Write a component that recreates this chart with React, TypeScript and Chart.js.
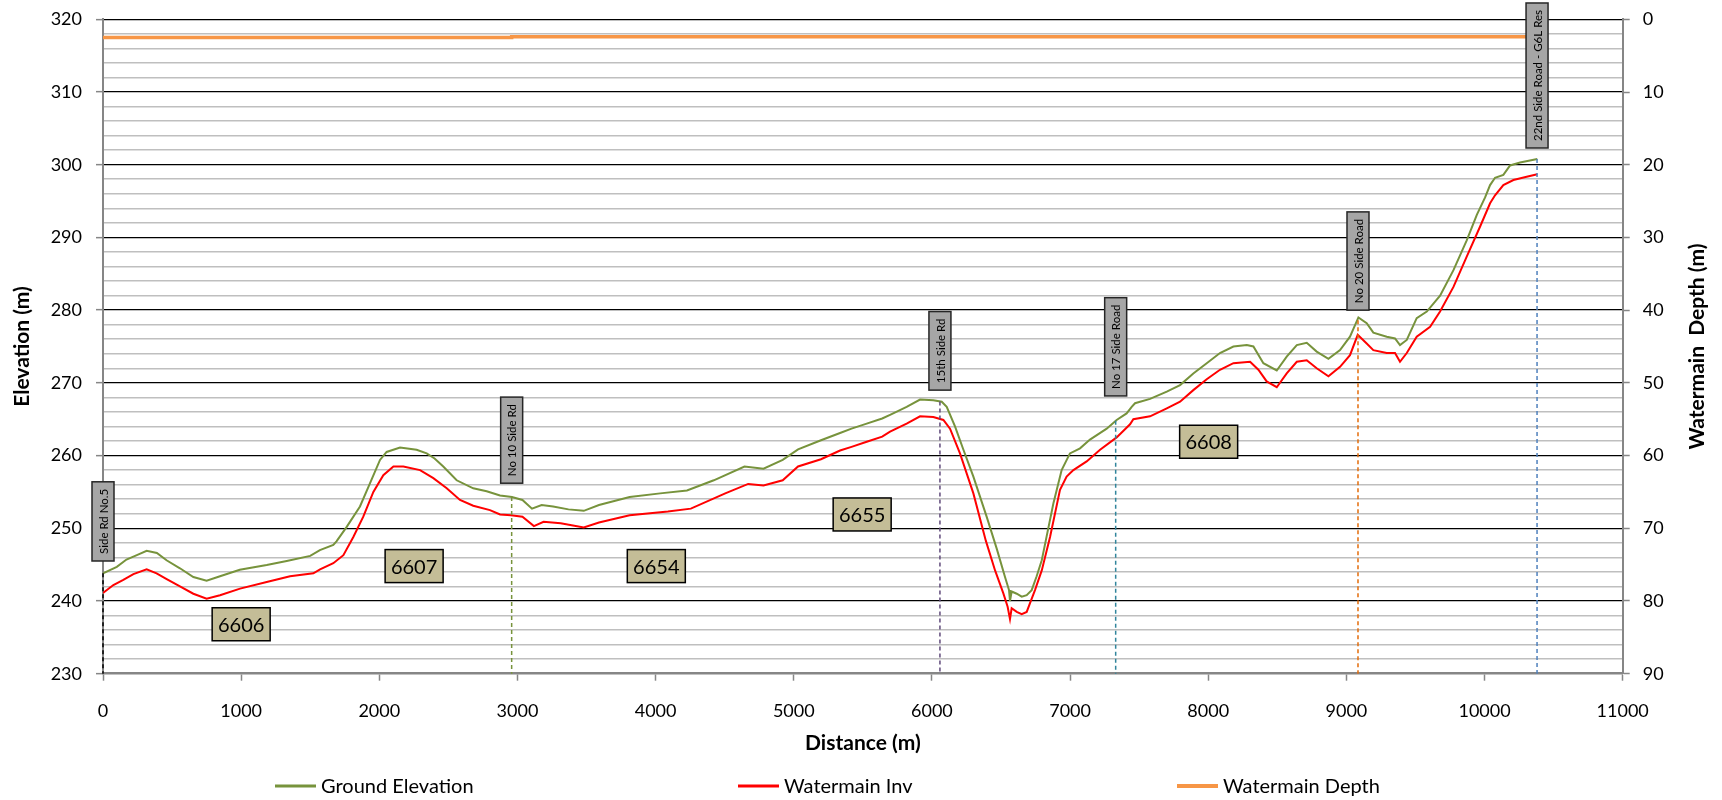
import React, { useEffect, useRef } from 'react';
import { Chart, registerables } from 'chart.js';

Chart.register(...registerables);

const FONT = 'Lato, "Open Sans", "DejaVu Sans", sans-serif';

// [distance (m), elevation (m)]
const groundElevation: [number, number][] = [
  [0, 243.8], [100, 244.7], [170, 245.7], [245, 246.3], [316, 246.9], [390, 246.6], [460, 245.6],
  [557, 244.5], [654, 243.3], [750, 242.8], [847, 243.4], [990, 244.3], [1185, 244.95], [1330, 245.5],
  [1500, 246.2], [1570, 247.0], [1667, 247.7], [1690, 248.2], [1764, 250.2], [1860, 253.0], [1933, 256.2],
  [2005, 259.4], [2053, 260.5], [2150, 261.1], [2270, 260.8], [2343, 260.3], [2400, 259.6], [2463, 258.5],
  [2560, 256.6], [2680, 255.5], [2777, 255.1], [2874, 254.5], [2960, 254.3], [3036, 253.9], [3105, 252.7],
  [3175, 253.2], [3258, 253.0], [3369, 252.6], [3480, 252.4], [3590, 253.2], [3812, 254.3], [4033, 254.8],
  [4227, 255.2], [4421, 256.6], [4643, 258.5], [4781, 258.2], [4920, 259.4], [5031, 260.85], [5197, 262.1],
  [5335, 263.1], [5418, 263.7], [5528, 264.4], [5640, 265.1], [5697, 265.6], [5817, 266.7], [5914, 267.7],
  [6010, 267.6], [6071, 267.4], [6107, 266.7], [6167, 264.0], [6228, 260.8], [6300, 257.1], [6396, 251.6],
  [6469, 247.2], [6529, 243.3], [6558, 241.5], [6565, 240.0], [6577, 241.3], [6614, 241.0], [6650, 240.6],
  [6686, 240.8], [6722, 241.5], [6758, 243.4], [6795, 245.6], [6824, 248.3], [6879, 253.4], [6939, 258.0],
  [6999, 260.3], [7072, 261.0], [7144, 262.2], [7265, 263.7], [7337, 264.9], [7409, 265.8], [7446, 266.7],
  [7470, 267.2], [7579, 267.8], [7700, 268.8], [7796, 269.7], [7892, 271.3], [7989, 272.7], [8085, 274.1],
  [8182, 275.0], [8279, 275.2], [8327, 275.0], [8399, 272.7], [8496, 271.7], [8568, 273.6], [8641, 275.2],
  [8713, 275.5], [8785, 274.3], [8870, 273.3], [8954, 274.5], [9026, 276.35], [9087, 279.0], [9147, 278.2],
  [9195, 276.9], [9292, 276.35], [9352, 276.1], [9388, 275.2], [9437, 275.9], [9509, 278.9], [9582, 279.8],
  [9678, 282.0], [9775, 285.5], [9871, 289.6], [9944, 293.1], [10004, 295.5], [10040, 297.2], [10076, 298.2],
  [10136, 298.6], [10185, 299.9], [10257, 300.3], [10382, 300.8],
];

const watermainInvert: [number, number][] = [
  [0, 241.1], [75, 242.2], [147, 242.9], [220, 243.7], [316, 244.35], [388, 243.8], [461, 243.0],
  [557, 242.0], [654, 241.0], [750, 240.3], [847, 240.8], [992, 241.7], [1185, 242.6], [1354, 243.4],
  [1523, 243.8], [1571, 244.35], [1667, 245.2], [1740, 246.3], [1812, 248.8], [1884, 251.6], [1957, 255.0],
  [2029, 257.3], [2102, 258.5], [2174, 258.5], [2295, 258.0], [2391, 256.9], [2488, 255.5], [2584, 253.9],
  [2680, 253.1], [2801, 252.5], [2874, 251.9], [2953, 251.8], [3036, 251.6], [3119, 250.3], [3189, 250.9],
  [3313, 250.7], [3480, 250.1], [3590, 250.8], [3812, 251.8], [4089, 252.3], [4255, 252.7], [4504, 254.8],
  [4670, 256.1], [4781, 255.9], [4920, 256.6], [5031, 258.5], [5197, 259.5], [5335, 260.7], [5418, 261.2],
  [5528, 261.9], [5640, 262.6], [5697, 263.3], [5817, 264.4], [5914, 265.4], [6010, 265.3], [6083, 264.9],
  [6131, 263.7], [6203, 260.3], [6300, 254.8], [6390, 248.3], [6457, 244.2], [6517, 241.05], [6548, 239.2],
  [6565, 237.5], [6577, 239.0], [6614, 238.5], [6650, 238.2], [6686, 238.5], [6710, 239.7], [6746, 241.5],
  [6795, 244.2], [6855, 248.8], [6927, 255.3], [6975, 257.1], [7024, 258.0], [7120, 259.2], [7217, 260.8],
  [7337, 262.5], [7434, 264.3], [7458, 265.0], [7579, 265.4], [7700, 266.5], [7796, 267.4], [7892, 269.0],
  [7989, 270.5], [8085, 271.8], [8182, 272.7], [8303, 272.9], [8363, 271.8], [8423, 270.2], [8496, 269.4],
  [8568, 271.3], [8641, 272.9], [8713, 273.1], [8785, 272.0], [8870, 270.9], [8954, 272.2], [9026, 273.8],
  [9082, 276.6], [9147, 275.4], [9195, 274.5], [9292, 274.1], [9352, 274.1], [9388, 272.9], [9437, 274.1],
  [9509, 276.35], [9606, 277.7], [9678, 279.8], [9775, 283.2], [9871, 287.35], [9968, 291.5], [10040, 294.7],
  [10076, 295.8], [10136, 297.2], [10209, 297.9], [10305, 298.35], [10382, 298.7],
];

// [distance (m), depth (m)] on the right axis
const watermainDepth: [number, number][] = [
  [0, 2.5], [2958, 2.5], [2958, 2.4], [10380, 2.4],
];

const seriesNames = ['Ground Elevation', 'Watermain Inv', 'Watermain Depth'];
const seriesColors = ['#77933C', '#FF0000', '#F79646'];

const roadNames = ['Side Rd No.5', 'No 10 Side Rd', '15th Side Rd', 'No 17 Side Road', 'No 20 Side Road', '22nd Side Road - G6L Res'];
const roadDistances = [0, 2958, 6058, 7330, 9084, 10380];
const roadLineTops = [243.8, 254.3, 267.45, 264.8, 278.6, 300.8];
const roadLabelBottoms = [245.5, 256.2, 269.0, 268.2, 280.0, 302.3];
const roadColors = ['#000000', '#77933C', '#604A7B', '#31859C', '#E46C0A', '#4F81BD'];

const sectionNames = ['6606', '6607', '6654', '6655', '6608'];
const sectionDistances = [1000, 2252, 4005, 5495, 8003];
const sectionElevations = [236.8, 244.8, 244.8, 251.9, 261.9];

const leftTitle = 'Elevation (m)';
const rightTitle = 'Watermain  Depth (m)';
const bottomTitle = 'Distance (m)';

const toPoints = (arr: [number, number][]) => arr.map(([x, y]) => ({ x, y }));

const overlayPlugin = {
  id: 'overlay',
  afterDatasetsDraw(chart: any) {
    const { ctx } = chart;
    const xs = chart.scales.x;
    const ys = chart.scales.y;
    ctx.save();
    ctx.font = `11.5px ${FONT}`;
    roadNames.forEach((name, i) => {
      const px = xs.getPixelForValue(roadDistances[i]);
      const bottom = ys.getPixelForValue(roadLabelBottoms[i]);
      const tw = ctx.measureText(name).width;
      const h = tw + 14;
      const w = 22;
      ctx.fillStyle = '#A6A6A6';
      ctx.fillRect(px - w / 2, bottom - h, w, h);
      ctx.lineWidth = 1.5;
      ctx.strokeStyle = '#262626';
      ctx.strokeRect(px - w / 2, bottom - h, w, h);
      ctx.save();
      ctx.translate(px, bottom - h / 2);
      ctx.rotate(-Math.PI / 2);
      ctx.fillStyle = '#000';
      ctx.textAlign = 'center';
      ctx.textBaseline = 'middle';
      ctx.fillText(name, 0, 1);
      ctx.restore();
    });
    ctx.font = `20px ${FONT}`;
    sectionNames.forEach((name, i) => {
      const px = xs.getPixelForValue(sectionDistances[i]);
      const py = ys.getPixelForValue(sectionElevations[i]);
      const w = 58;
      const h = 33;
      ctx.fillStyle = '#C4BD97';
      ctx.fillRect(px - w / 2, py - h / 2, w, h);
      ctx.lineWidth = 1.5;
      ctx.strokeStyle = '#000';
      ctx.strokeRect(px - w / 2, py - h / 2, w, h);
      ctx.fillStyle = '#000';
      ctx.textAlign = 'center';
      ctx.textBaseline = 'middle';
      ctx.fillText(name, px, py + 1);
    });
    ctx.restore();
  },
  afterDraw(chart: any) {
    const { ctx, chartArea } = chart;
    ctx.save();
    ctx.font = `bold 21px ${FONT}`;
    ctx.fillStyle = '#000';
    ctx.textAlign = 'center';
    ctx.textBaseline = 'middle';
    ctx.translate(1697, (chartArea.top + chartArea.bottom) / 2);
    ctx.rotate(-Math.PI / 2);
    ctx.fillText(rightTitle, 0, 0);
    ctx.restore();

    ctx.save();
    const legendX = [275, 738, 1177];
    const legendY = 786;
    ctx.font = `20px ${FONT}`;
    ctx.textAlign = 'left';
    ctx.textBaseline = 'middle';
    seriesNames.forEach((name, i) => {
      ctx.strokeStyle = seriesColors[i];
      ctx.lineWidth = i === 2 ? 4 : 3;
      ctx.beginPath();
      ctx.moveTo(legendX[i], legendY);
      ctx.lineTo(legendX[i] + 41, legendY);
      ctx.stroke();
      ctx.fillStyle = '#000';
      ctx.fillText(name, legendX[i] + 46, legendY + 1);
    });
    ctx.restore();
  },
};

export default function App() {
  const canvasRef = useRef<HTMLCanvasElement | null>(null);

  useEffect(() => {
    if (!canvasRef.current) return;
    Chart.defaults.font.family = FONT;
    Chart.defaults.color = '#000';

    const roadLineSets = roadNames.map((name, i) => ({
      label: name,
      data: [
        { x: roadDistances[i], y: roadLineTops[i] },
        { x: roadDistances[i], y: 230 },
      ],
      yAxisID: 'y',
      borderColor: roadColors[i],
      borderWidth: 1.5,
      borderDash: [4, 3],
      pointRadius: 0,
      fill: false,
      clip: false as any,
    }));

    const chart = new Chart(canvasRef.current, {
      type: 'line',
      data: {
        datasets: [
          ...roadLineSets,
          {
            label: seriesNames[0],
            data: toPoints(groundElevation),
            yAxisID: 'y',
            borderColor: seriesColors[0],
            borderWidth: 2,
            pointRadius: 0,
            fill: false,
          },
          {
            label: seriesNames[1],
            data: toPoints(watermainInvert),
            yAxisID: 'y',
            borderColor: seriesColors[1],
            borderWidth: 2,
            pointRadius: 0,
            fill: false,
          },
          {
            label: seriesNames[2],
            data: toPoints(watermainDepth),
            yAxisID: 'y2',
            borderColor: seriesColors[2],
            borderWidth: 3.5,
            pointRadius: 0,
            fill: false,
          },
        ],
      },
      options: {
        animation: false,
        responsive: false,
        maintainAspectRatio: false,
        devicePixelRatio: 1,
        layout: { padding: { top: 19.3, left: 0, right: 0, bottom: 0 } },
        plugins: {
          legend: { display: false },
          tooltip: { enabled: false },
        },
        elements: { line: { tension: 0 } },
        scales: {
          x: {
            type: 'linear',
            min: 0,
            max: 11000,
            ticks: {
              stepSize: 1000,
              autoSkip: false,
              maxRotation: 0,
              padding: 20,
              color: '#000',
              font: { family: FONT, size: 18 },
              callback: (v: any) => String(v),
            },
            grid: {
              drawOnChartArea: false,
              drawTicks: true,
              tickLength: 7,
              tickColor: '#868686',
              tickWidth: 1.5,
            },
            border: { color: '#868686', width: 2.5 },
            title: {
              display: true,
              text: bottomTitle,
              color: '#000',
              font: { family: FONT, size: 21, weight: 'bold' },
              padding: { top: 0, bottom: 44 },
            },
            afterFit: (s: any) => {
              s.height = 126.3;
            },
          },
          y: {
            type: 'linear',
            position: 'left',
            min: 230,
            max: 320,
            ticks: {
              stepSize: 2,
              autoSkip: false,
              padding: 14,
              color: '#000',
              font: { family: FONT, size: 18 },
              callback: (v: any) => (Math.round(v) % 10 === 0 ? String(v) : ''),
            },
            grid: {
              color: (c: any) =>
                c.tick && c.tick.value === 230
                  ? 'rgba(0,0,0,0)'
                  : c.tick && Math.round(c.tick.value) % 10 === 0
                  ? '#000000'
                  : '#BFBFBF',
              lineWidth: (c: any) => (c.tick && Math.round(c.tick.value) % 10 === 0 ? 1.3 : 1.6),
              tickLength: 7,
              tickColor: (c: any) =>
                c.tick && Math.round(c.tick.value) % 10 === 0 ? '#868686' : 'rgba(0,0,0,0)',
              tickWidth: 1.5,
            },
            border: { color: '#868686', width: 2 },
            title: {
              display: true,
              text: leftTitle,
              color: '#000',
              font: { family: FONT, size: 21, weight: 'bold' },
              padding: { top: 9.4, bottom: 0 },
            },
            afterFit: (s: any) => {
              s.width = 103;
              s.paddingTop = 0;
              s.paddingBottom = 0;
            },
          },
          y2: {
            type: 'linear',
            position: 'right',
            min: 0,
            max: 90,
            reverse: true,
            ticks: {
              stepSize: 10,
              autoSkip: false,
              padding: 13,
              color: '#000',
              font: { family: FONT, size: 18 },
              callback: (v: any) => String(v),
            },
            grid: {
              drawOnChartArea: false,
              tickLength: 7,
              tickColor: '#868686',
              tickWidth: 1.5,
            },
            border: { color: '#868686', width: 2 },
            title: { display: false },
            afterFit: (s: any) => {
              s.width = 99.3;
              s.paddingTop = 0;
              s.paddingBottom = 0;
            },
          },
        },
      } as any,
      plugins: [overlayPlugin],
    });

    return () => {
      chart.destroy();
    };
  }, []);

  return (
    <div style={{ position: 'absolute', left: 0, top: 0, width: 1722, height: 800, background: '#fff' }}>
      <canvas ref={canvasRef} width={1722} height={800} style={{ display: 'block' }} />
    </div>
  );
}
